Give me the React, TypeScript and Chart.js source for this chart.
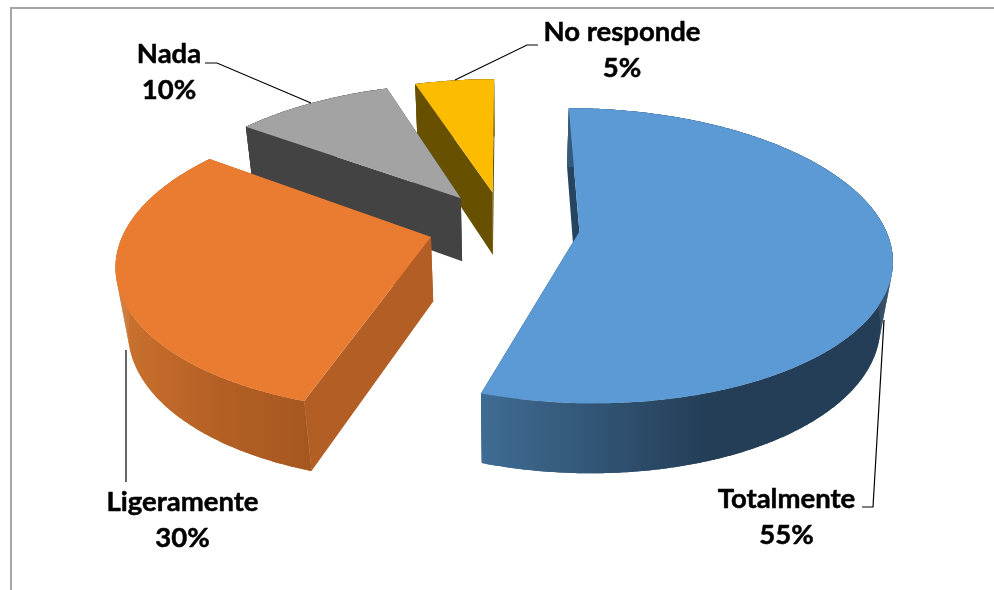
import React, { useEffect, useRef } from "react";
import { Chart, registerables } from "chart.js";

Chart.register(...registerables);

const categories = ["Totalmente", "Ligeramente", "Nada", "No responde"];
const shares = [55, 30, 10, 5];
const topColors = ["#5b9ad5", "#ea7c32", "#a3a3a3", "#fcbd00"];
const cutColors = ["#264560", "#b25e24", "#434343", "#675000"];
const rimStops: [number, string][][] = [
  [[0, "#3f6c94"], [0.55, "#243e57"], [1, "#243e57"]],
  [[0, "#cb722e"], [0.5, "#b56025"], [1, "#a55720"]],
  [[0, "#434343"], [1, "#434343"]],
  [[0, "#675000"], [1, "#675000"]],
];
const labelCentres = [
  { x: 786.5, y: 499 },
  { x: 182.5, y: 502 },
  { x: 169, y: 54 },
  { x: 622, y: 32 },
];
const leaderPaths = [
  [[862, 507], [873, 507], [884, 320]],
  [[126, 482], [126, 350]],
  [[205, 63], [217, 63], [311, 103]],
  [[538, 45], [527, 45], [455, 80]],
];

// Perspective of the tilted pie
const VIEW = { rx: 305, ry: 141.8, depth: 66, recedeY: 0.163, recedeZ: 0.032 };

const pie3d = {
  id: "pie3d",
  beforeDatasetsDraw(chart: any) {
    const { ctx } = chart;
    const arcs = chart.getDatasetMeta(0).data;

    ctx.save();
    ctx.strokeStyle = "#a6a6a6";
    ctx.lineWidth = 2;
    ctx.beginPath();
    ctx.moveTo(11, 590);
    ctx.lineTo(11, 8);
    ctx.lineTo(994, 8);
    ctx.stroke();
    ctx.restore();

    [3, 2, 1, 0].forEach((i) => {
      const el = arcs[i];
      const { x, y, startAngle, endAngle, outerRadius } = el.getProps(
        ["x", "y", "startAngle", "endAngle", "outerRadius"],
        true
      );
      const mid = (startAngle + endAngle) / 2;
      const shift = el.options.offset / outerRadius;
      const ou = Math.cos(mid) * shift;
      const ov = -Math.sin(mid) * shift;
      const project = (u: number, v: number, z: number) => {
        const w = 1 + VIEW.recedeY * v + VIEW.recedeZ * z;
        return [
          x + (VIEW.rx * u) / w,
          y - (VIEW.ry * v) / w + (VIEW.depth * z) / w,
        ];
      };
      const rimPoint = (a: number, z: number) =>
        project(ou + Math.cos(a), ov - Math.sin(a), z);
      const apex = (z: number) => project(ou, ov, z);

      const steps = Math.max(8, Math.ceil(((endAngle - startAngle) * 180) / Math.PI) * 2);
      const angles: number[] = [];
      for (let s = 0; s <= steps; s++) {
        angles.push(startAngle + ((endAngle - startAngle) * s) / steps);
      }
      const fill = (pts: number[][], style: any) => {
        ctx.beginPath();
        pts.forEach((p, k) => (k ? ctx.lineTo(p[0], p[1]) : ctx.moveTo(p[0], p[1])));
        ctx.closePath();
        ctx.fillStyle = style;
        ctx.fill();
      };

      // cut faces
      [startAngle, endAngle].forEach((a: number) => {
        fill([apex(0), rimPoint(a, 0), rimPoint(a, 1), apex(1)], cutColors[i]);
      });

      // curved rim: the outline first, then every strip so the silhouette is a true sweep
      const top = angles.map((a) => rimPoint(a, 0));
      const bottom = angles.map((a) => rimPoint(a, 1));
      const xs = top.concat(bottom).map((p) => p[0]);
      const grad = ctx.createLinearGradient(Math.min(...xs), 0, Math.max(...xs), 0);
      rimStops[i].forEach(([stop, colour]) => grad.addColorStop(stop, colour));
      fill(top.concat(bottom.slice().reverse()), grad);
      for (let s = 0; s < steps; s++) {
        fill([top[s], top[s + 1], bottom[s + 1], bottom[s]], grad);
      }

      // top face
      fill([apex(0), ...top], el.options.backgroundColor);
    });

    // leader lines
    ctx.save();
    ctx.strokeStyle = "#000";
    ctx.lineWidth = 1.2;
    leaderPaths.forEach((path) => {
      ctx.beginPath();
      path.forEach((p, k) => (k ? ctx.lineTo(p[0], p[1]) : ctx.moveTo(p[0], p[1])));
      ctx.stroke();
    });
    ctx.restore();

    // labels
    ctx.save();
    ctx.fillStyle = "#000";
    ctx.strokeStyle = "#000";
    ctx.lineWidth = 0.5;
    ctx.lineJoin = "round";
    ctx.font = "bold 27.5px Lato";
    ctx.textAlign = "center";
    ctx.textBaseline = "middle";
    chart.data.labels.forEach((name: string, i: number) => {
      const c = labelCentres[i];
      const pct = `${chart.data.datasets[0].data[i]}%`;
      ctx.fillText(name, c.x, c.y);
      ctx.strokeText(name, c.x, c.y);
      ctx.fillText(pct, c.x, c.y + 36);
      ctx.strokeText(pct, c.x, c.y + 36);
    });
    ctx.restore();
    return false;
  },
};

export default function App() {
  const ref = useRef<HTMLCanvasElement | null>(null);
  useEffect(() => {
    document.body.style.margin = "0";
    const chart = new Chart(ref.current as HTMLCanvasElement, {
      type: "pie",
      data: {
        labels: categories,
        datasets: [
          {
            data: shares,
            backgroundColor: topColors,
            borderWidth: 0,
            offset: 50,
          },
        ],
      },
      options: {
        responsive: false,
        animation: false,
        layout: { padding: { left: 14, bottom: 138 } },
        plugins: { legend: { display: false }, tooltip: { enabled: false } },
      },
      plugins: [pie3d],
    } as any);
    return () => chart.destroy();
  }, []);
  return (
    <div style={{ width: 994, height: 590, background: "#fff", overflow: "hidden" }}>
      <canvas ref={ref} width={994} height={590} style={{ display: "block" }} />
    </div>
  );
}
